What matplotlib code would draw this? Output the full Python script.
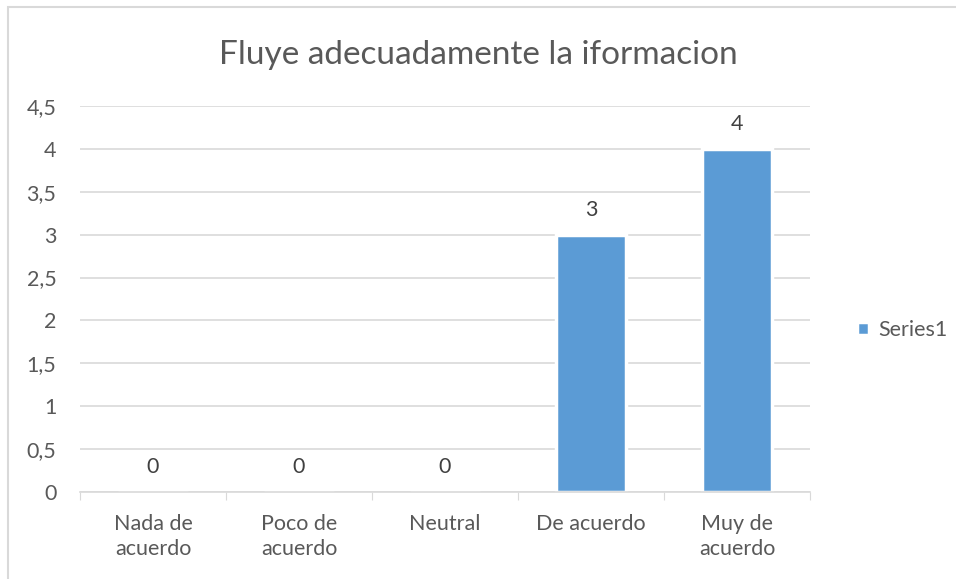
import matplotlib.pyplot as plt
from matplotlib.patches import Rectangle
from matplotlib.ticker import FuncFormatter

plt.rcParams['font.family'] = ['Lato', 'DejaVu Sans']

categorias = ['Nada de\nacuerdo', 'Poco de\nacuerdo', 'Neutral', 'De acuerdo', 'Muy de\nacuerdo']
valores = [0, 0, 0, 3, 4]
serie = 'Series1'
yticks = [0, 0.5, 1, 1.5, 2, 2.5, 3, 3.5, 4, 4.5]

gris = '#595959'
azul = '#5B9BD5'

fig = plt.figure(figsize=(9.56, 5.79), dpi=100)
ax = fig.add_axes([80 / 956, 1 - 492 / 579, 730 / 956, 386 / 579])

x = range(len(categorias))
barras = ax.bar(x, valores, width=0.48, color=azul, edgecolor='white',
                linewidth=2.5, label=serie, zorder=3)
for b, v in zip(barras, valores):
    ax.text(b.get_x() + b.get_width() / 2, v + 0.29, str(v), ha='center',
            va='center', fontsize=15.5, color='#404040')

ax.set_xlim(-0.5, len(categorias) - 0.5)
ax.set_ylim(0, 4.5)
ax.set_yticks(yticks)
ax.yaxis.set_major_formatter(FuncFormatter(lambda v, p: f'{v:g}'.replace('.', ',')))
ax.yaxis.grid(True, color='#d9d9d9', linewidth=1.2, zorder=0)
ax.set_axisbelow(True)

# separadores de categoria en el eje x
ax.set_xticks([i - 0.5 for i in range(len(categorias) + 1)])
ax.set_xticklabels([])
ax.set_xticks(list(x), minor=True)
ax.set_xticklabels(categorias, minor=True, fontsize=15.5, color=gris,
                   linespacing=1.3)
ax.tick_params(axis='x', which='major', length=6, color='#d9d9d9', direction='out')
ax.tick_params(axis='x', which='minor', length=0, pad=16)
ax.tick_params(axis='y', length=0, labelsize=15.5, labelcolor=gris, pad=17)

for s in ['top', 'right', 'left']:
    ax.spines[s].set_visible(False)
ax.spines['bottom'].set_color('#d9d9d9')
ax.spines['bottom'].set_linewidth(1.2)
ax.spines['bottom'].set_zorder(4)

fig.text(0.5, 1 - 55 / 579, 'Fluye adecuadamente la iformacion', ha='center',
         va='center', fontsize=24, color=gris)

ax.legend(loc='center left', bbox_to_anchor=(846 / 956, 1 - 330 / 579),
          bbox_transform=fig.transFigure, frameon=False, fontsize=15.5,
          handlelength=0.55, handleheight=0.55, handletextpad=0.45,
          borderpad=0, labelcolor=gris)

# borde del area del grafico
fig.patches.append(Rectangle((8 / 956, -0.05), 1.1, 1 - 7 / 579 + 0.05,
                             transform=fig.transFigure, fill=False,
                             edgecolor='#d9d9d9', linewidth=1.5))

fig.savefig('out.png', dpi=100)
